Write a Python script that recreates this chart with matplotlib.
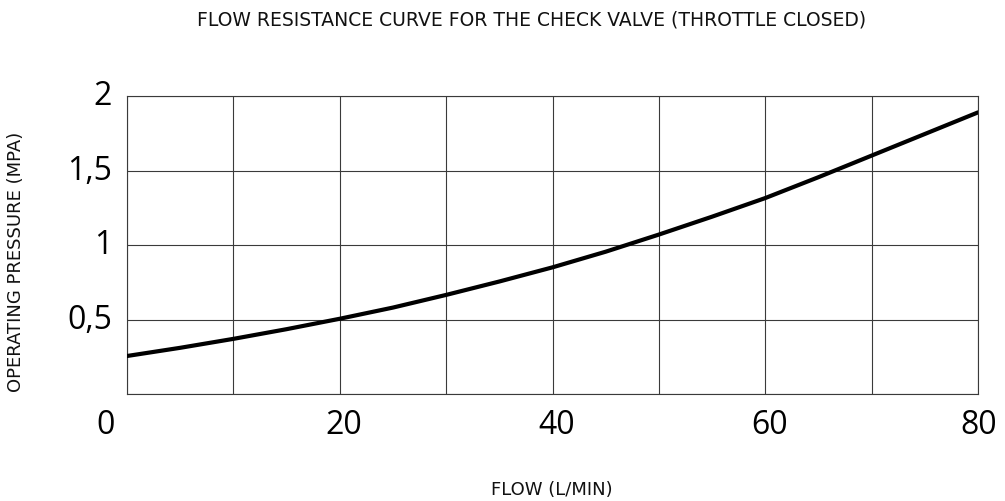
import matplotlib
matplotlib.use("Agg")
import matplotlib.pyplot as plt
from matplotlib.transforms import ScaledTranslation

# values
flow = [0, 5, 10, 15, 20, 25, 30, 35, 40, 45, 50, 55, 60, 65, 70, 75, 80]
pressure = [0.255, 0.31, 0.37, 0.435, 0.505, 0.58, 0.665, 0.755, 0.85,
            0.955, 1.07, 1.19, 1.315, 1.455, 1.60, 1.745, 1.89]
xticks = [0, 20, 40, 60, 80]
xticklabels = ["0", "20", "40", "60", "80"]
yticks = [0.5, 1, 1.5, 2]
yticklabels = ["0,5", "1", "1,5", "2"]

W, H = 1005, 502
num_font = ["Open Sans", "DejaVu Sans"]
cap_font = ["DejaVu Sans"]

fig = plt.figure(figsize=(W / 100, H / 100), dpi=100)
ax = fig.add_axes([127 / W, (H - 395) / H, (978 - 127) / W, (395 - 97) / H])

ax.plot(flow, pressure, color="black", lw=3.0, solid_capstyle="round", zorder=3)

ax.set_xlim(0, 80)
ax.set_ylim(0, 2)
ax.set_xticks(range(0, 81, 10))
ax.set_yticks([0, 0.5, 1, 1.5, 2])
ax.grid(True, color="#3a3a3a", lw=0.8)
for s in ax.spines.values():
    s.set_color("#3a3a3a")
    s.set_linewidth(0.8)
ax.tick_params(length=0, labelbottom=False, labelleft=False)

# tick labels (placed by hand: the "0" sits left of the axis corner)
for x, lab in zip(xticks, xticklabels):
    dx = -21 if x == 0 else (1 if x == 80 else 4)
    ax.text(x, 0, lab, ha="center", va="center", fontsize=23, family=num_font,
            transform=ax.transData + ScaledTranslation(dx / 100, -31 / 100, fig.dpi_scale_trans),
            clip_on=False)
for y, lab in zip(yticks, yticklabels):
    ax.text(0, y, lab, ha="right", va="center", fontsize=23, family=num_font,
            transform=ax.transData + ScaledTranslation(-15 / 100, 0, fig.dpi_scale_trans),
            clip_on=False)

fig.text(532 / W, 1 - 20 / H, "FLOW RESISTANCE CURVE FOR THE CHECK VALVE (THROTTLE CLOSED)",
         ha="center", va="center", fontsize=13.5, family=cap_font, color="#111")
fig.text(552 / W, 1 - 490 / H, "FLOW (L/MIN)", ha="center", va="center",
         fontsize=13, family=cap_font, color="#111")
fig.text(16 / W, 1 - 262 / H, "OPERATING PRESSURE (MPA)", ha="center", va="center",
         rotation=90, fontsize=13, family=cap_font, color="#111")

fig.savefig("out.png", dpi=100)
